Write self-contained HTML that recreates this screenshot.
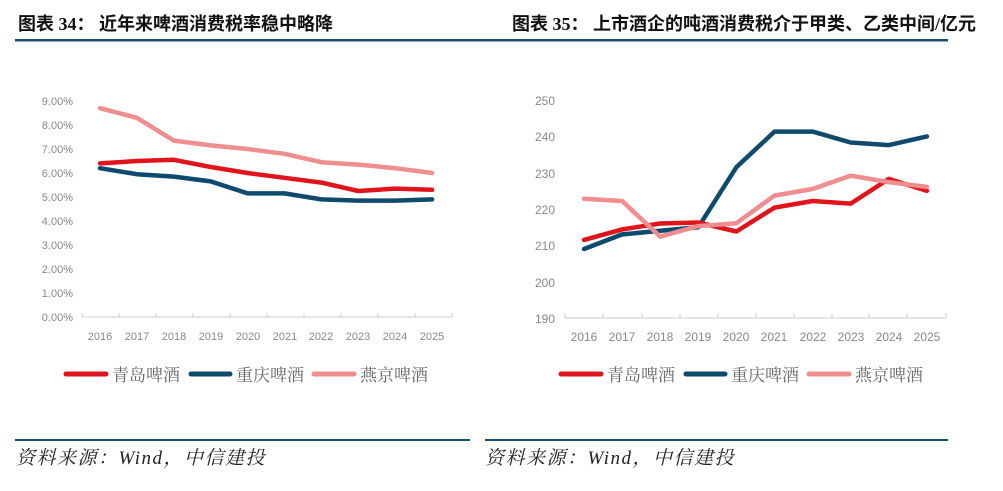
<!DOCTYPE html>
<html><head><meta charset="utf-8"><style>
body{margin:0;width:1003px;height:491px;background:#fff;overflow:hidden}
svg{position:absolute;left:0;top:0}
</style></head><body>
<svg width="1003" height="491" xmlns="http://www.w3.org/2000/svg" font-family="'Liberation Sans','Noto Sans CJK SC',sans-serif">
<text x="18" y="30" font-size="18" font-weight="bold" fill="#111" font-family="'Liberation Serif','Noto Sans CJK SC',serif">图表 34：  近年来啤酒消费税率稳中略降</text>
<text x="512" y="30" font-size="18" font-weight="bold" fill="#111" font-family="'Liberation Serif','Noto Sans CJK SC',serif">图表 35：  上市酒企的吨酒消费税介于甲类、乙类中间/亿元</text>
<rect x="15" y="39" width="933" height="2.5" fill="#1d4f72"/>
<rect x="15" y="439" width="455" height="2" fill="#1d4f72"/>
<rect x="485" y="439" width="463" height="2" fill="#1d4f72"/>
<g font-size="19" font-style="italic" fill="#222" letter-spacing="1.5" font-family="'Liberation Serif','Noto Serif CJK SC',serif">
<text x="16" y="464">资料来源：Wind，中信建投</text>
<text x="485" y="464">资料来源：Wind，中信建投</text></g>

<!-- left chart -->
<g font-size="11" fill="#888" text-anchor="end">
<text x="73" y="105">9.00%</text><text x="73" y="129">8.00%</text><text x="73" y="153">7.00%</text><text x="73" y="177">6.00%</text><text x="73" y="201">5.00%</text><text x="73" y="225">4.00%</text><text x="73" y="249">3.00%</text><text x="73" y="273">2.00%</text><text x="73" y="297">1.00%</text><text x="73" y="321">0.00%</text></g>
<path d="M82 317H452M82 313v4M119 313v4M156 313v4M193 313v4M230 313v4M267 313v4M304 313v4M341 313v4M378 313v4M415 313v4M452 313v4" stroke="#ccc" stroke-width="1" fill="none"/>
<g font-size="11" fill="#888" text-anchor="middle">
<text x="100" y="340">2016</text><text x="137" y="340">2017</text><text x="174" y="340">2018</text><text x="211" y="340">2019</text><text x="248" y="340">2020</text><text x="285" y="340">2021</text><text x="321" y="340">2022</text><text x="358" y="340">2023</text><text x="395" y="340">2024</text><text x="432" y="340">2025</text></g>
<g fill="none" stroke-width="4.5" stroke-linejoin="round" stroke-linecap="round">
<polyline stroke="#ef8d8f" points="100,108.2 136.9,117.8 173.8,140.6 210.7,145.4 247.6,149 284.5,153.8 321.4,162.2 358.3,164.6 395.2,168.2 432.1,173"/>
<polyline stroke="#e0141b" points="100,163.4 136.9,161 173.8,159.8 210.7,167 247.6,173 284.5,177.8 321.4,182.6 358.3,191 395.2,188.6 432.1,189.8"/>
<polyline stroke="#0e4a6e" points="100,168.2 136.9,174.2 173.8,176.6 210.7,181.4 247.6,193.4 284.5,193.4 321.4,199.4 358.3,200.6 395.2,200.6 432.1,199.4"/>
</g>
<g font-size="17" fill="#666" font-family="'Liberation Serif','Noto Serif CJK SC',serif">
<line x1="66" y1="374" x2="106" y2="374" stroke="#e0141b" stroke-width="5" stroke-linecap="round"/><text x="112" y="381">青岛啤酒</text>
<line x1="191" y1="374" x2="230" y2="374" stroke="#0e4a6e" stroke-width="5" stroke-linecap="round"/><text x="236" y="381">重庆啤酒</text>
<line x1="314" y1="374" x2="354" y2="374" stroke="#ef8d8f" stroke-width="5" stroke-linecap="round"/><text x="360" y="381">燕京啤酒</text></g>

<!-- right chart -->
<g font-size="12" fill="#888" text-anchor="end">
<text x="555" y="105">250</text><text x="555" y="141">240</text><text x="555" y="178">230</text><text x="555" y="214">220</text><text x="555" y="250">210</text><text x="555" y="287">200</text><text x="555" y="323">190</text></g>
<path d="M565 318H946M565 313v5M603 313v5M642 313v5M680 313v5M718 313v5M756 313v5M794 313v5M832 313v5M869 313v5M907 313v5M946 313v5" stroke="#ccc" stroke-width="1" fill="none"/>
<g font-size="12" fill="#888" text-anchor="middle">
<text x="584" y="341">2016</text><text x="622" y="341">2017</text><text x="660" y="341">2018</text><text x="698" y="341">2019</text><text x="736" y="341">2020</text><text x="774" y="341">2021</text><text x="813" y="341">2022</text><text x="851" y="341">2023</text><text x="889" y="341">2024</text><text x="927" y="341">2025</text></g>
<g fill="none" stroke-width="4.5" stroke-linejoin="round" stroke-linecap="round">
<polyline stroke="#0e4a6e" points="584,249 622.1,234.4 660.2,230.8 698.3,227.2 736.4,167.2 774.5,131.6 812.6,131.6 850.7,142.5 888.8,145.1 926.9,136.4"/>
<polyline stroke="#e0141b" points="584,239.9 622.1,229.4 660.2,223.5 698.3,222.5 736.4,231.5 774.5,207.6 812.6,201 850.7,203.6 888.8,178.9 926.9,190.8"/>
<polyline stroke="#ef8d8f" points="584,198.8 622.1,201 660.2,236.6 698.3,226.1 736.4,223.2 774.5,195.6 812.6,189 850.7,175.6 888.8,182.1 926.9,186.9"/>
</g>
<g font-size="17" fill="#666" font-family="'Liberation Serif','Noto Serif CJK SC',serif">
<line x1="561" y1="374" x2="601" y2="374" stroke="#e0141b" stroke-width="5" stroke-linecap="round"/><text x="607" y="381">青岛啤酒</text>
<line x1="686" y1="374" x2="725" y2="374" stroke="#0e4a6e" stroke-width="5" stroke-linecap="round"/><text x="731" y="381">重庆啤酒</text>
<line x1="809" y1="374" x2="849" y2="374" stroke="#ef8d8f" stroke-width="5" stroke-linecap="round"/><text x="855" y="381">燕京啤酒</text></g>
</svg>
</body></html>
